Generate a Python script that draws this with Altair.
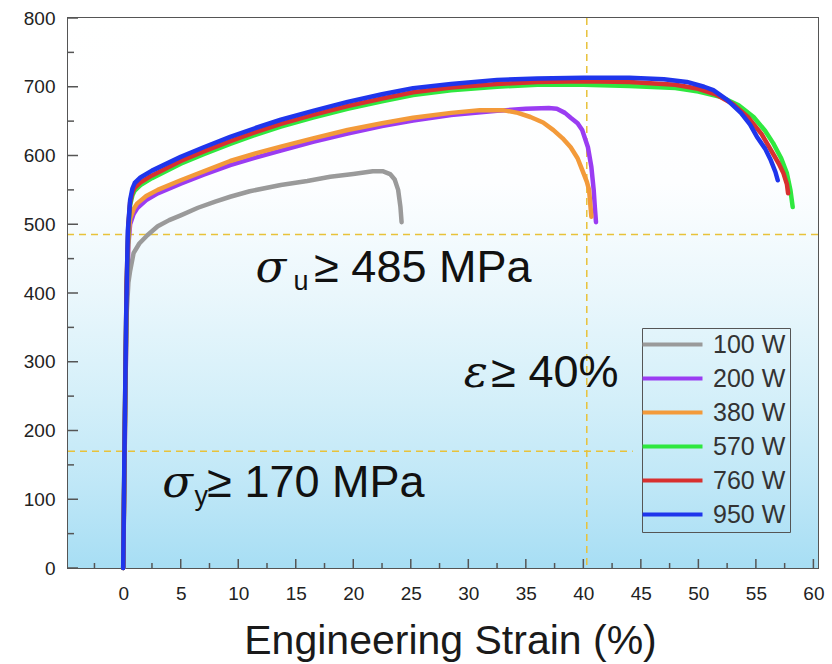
import altair as alt
import pandas as pd

# ---------------- data ----------------
POWER = ["100 W", "200 W", "380 W", "570 W", "760 W", "950 W"]
COLORS = ["#9a9a9a", "#9a3cf2", "#f39a3a", "#2fe83f", "#d8302f", "#1f35ec"]

S100_STRAIN = [0, 0.1, 0.2, 0.3, 0.45, 0.6, 0.9, 1.4, 2.1, 3.0, 4.0, 5.0, 6.5, 8.0, 9.3, 11.0, 13.7, 16.0, 18.0, 20.0,
               21.7, 22.6, 23.2, 23.6, 23.9, 24.1, 24.2]
S100_STRESS = [0, 130, 270, 370, 415, 432, 458, 472, 484, 497, 506, 513, 524, 533, 540, 548, 557, 563, 569, 573,
               577, 577, 573, 565, 550, 525, 503]

S200_STRAIN = [0, 0.15, 0.3, 0.45, 0.6, 0.9, 1.2, 2.0, 3.0, 5.0, 7.0, 9.3, 11.5, 13.7, 16.5, 19.5, 22.5, 25.2, 28.5, 32.5,
               35.0, 37.0, 37.7, 38.4, 38.9, 39.5, 39.9, 40.4, 40.7, 40.9, 41.0, 41.1]
S200_STRESS = [0, 200, 390, 470, 500, 515, 523, 535, 545, 559, 572, 586, 597, 607, 620, 632, 643, 651, 659, 665,
               668, 669, 668, 662, 655, 647, 637, 612, 583, 550, 525, 503]

S380_STRAIN = [0, 0.15, 0.3, 0.45, 0.6, 0.9, 1.2, 2.0, 3.0, 5.0, 7.0, 9.3, 11.5, 13.7, 16.5, 19.5, 22.5, 25.2, 28.5, 31.0,
               33.0, 34.3, 35.4, 36.5, 37.4, 38.2, 38.9, 39.5, 39.9, 40.3, 40.5, 40.6, 40.7]
S380_STRESS = [0, 210, 400, 480, 508, 522, 530, 541, 550, 564, 577, 592, 603, 613, 625, 637, 647, 655, 662, 666,
               666, 662, 656, 648, 637, 625, 612, 596, 579, 562, 550, 530, 511]

S570_STRAIN = [0, 0.15, 0.3, 0.45, 0.6, 0.8, 1.0, 1.5, 2.5, 5.0, 7.0, 9.3, 11.5, 13.7, 16.5, 19.5, 22.5, 25.2, 28.5, 32.5,
               36.0, 40.0, 44.0, 48.0, 50.0, 52.0, 53.5, 54.8, 55.8, 56.5, 57.2, 57.7, 58.0, 58.2]
S570_STRESS = [0, 220, 410, 495, 528, 542, 549, 557, 567, 588, 602, 617, 630, 642, 655, 668, 679, 688, 695, 700,
               703, 703, 701, 698, 693, 685, 673, 656, 636, 618, 596, 574, 550, 525]

S760_STRAIN = [0, 0.15, 0.3, 0.45, 0.6, 0.8, 1.0, 1.5, 2.5, 5.0, 7.0, 9.3, 11.5, 13.7, 16.5, 19.5, 22.5, 25.2, 28.5, 32.5,
               36.0, 40.0, 44.0, 48.0, 50.0, 51.5, 53.0, 54.3, 55.5, 56.3, 57.0, 57.4, 57.7, 57.8]
S760_STRESS = [0, 225, 420, 500, 532, 546, 553, 561, 571, 592, 606, 621, 634, 646, 659, 672, 683, 692, 699, 704,
               707, 708, 707, 703, 697, 689, 675, 656, 631, 608, 588, 574, 558, 545]

S950_STRAIN = [0, 0.1, 0.25, 0.4, 0.6, 0.8, 1.0, 1.5, 2.5, 5.0, 7.0, 9.3, 11.5, 13.7, 16.5, 19.5, 22.5, 25.2, 28.5, 32.5,
               36.0, 40.0, 44.0, 47.0, 49.0, 50.5, 51.3, 52.5, 53.7, 54.5, 55.1, 55.8, 56.3, 56.7, 56.9]
S950_STRESS = [0, 160, 360, 490, 535, 552, 560, 568, 578, 598, 612, 627, 640, 652, 665, 678, 689, 698, 704, 710,
               712, 713, 713, 711, 707, 700, 695, 681, 662, 645, 627, 610, 593, 576, 564]

SERIES_STRAIN = [S100_STRAIN, S200_STRAIN, S380_STRAIN, S570_STRAIN, S760_STRAIN, S950_STRAIN]
SERIES_STRESS = [S100_STRESS, S200_STRESS, S380_STRESS, S570_STRESS, S760_STRESS, S950_STRESS]

X_DOMAIN = [-4.8, 60.4]
Y_DOMAIN = [0, 800]
X_LABELS = [0, 5, 10, 15, 20, 25, 30, 35, 40, 45, 50, 55, 60]
Y_LABELS = [0, 100, 200, 300, 400, 500, 600, 700, 800]
X_MINOR = [-2.5, 2.5, 7.5, 12.5, 17.5, 22.5, 27.5, 32.5, 37.5, 42.5, 47.5, 52.5, 57.5]
Y_MINOR = [50, 150, 250, 350, 450, 550, 650, 750]

# reference (criteria) lines
H_FULL = [485]
H_PART = [170]
H_PART_END = [44.3]
V_LINE = [40.3]

# annotations
GREEK = ["σ", "σ", "ε"]
GREEK_X = [11.5, 3.4, 29.6]
GREEK_Y = [416, 103, 263]
SUB = ["u", "y"]
SUB_X = [14.8, 6.2]
SUB_Y = [404, 91]
REST = ["≥ 485 MPa", "≥ 170 MPa", "≥ 40%"]
REST_X = [16.6, 7.3, 32.0]
REST_Y = [416, 103, 263]

# ---------------- tables ----------------
rows = []
for name, xs, ys in zip(POWER, SERIES_STRAIN, SERIES_STRESS):
    for i, (a, b) in enumerate(zip(xs, ys)):
        rows.append({"power": name, "strain": a, "stress": b, "i": i})
curves = pd.DataFrame(rows)

W, H = 750, 550
FONT = "Liberation Sans"
DASH_COLOR = "#e8c23a"

xscale = alt.Scale(domain=X_DOMAIN, nice=False, zero=False)
yscale = alt.Scale(domain=Y_DOMAIN, nice=False, zero=False)

X_AXIS = alt.Axis(
    values=X_LABELS, title="Engineering Strain (%)", titleFont=FONT, titleFontSize=41,
    titleFontWeight="normal", titleColor="#1a1a1a", titleY=85, titleX=382, titleBaseline="alphabetic",
    labelFont=FONT, labelFontSize=19, labelColor="#222222", labelPadding=16, labelFlush=False,
    ticks=False, domain=False, grid=False)
Y_AXIS = alt.Axis(
    values=Y_LABELS, title="", labelFont=FONT, labelFontSize=19, labelColor="#222222",
    labelPadding=13, labelFlush=False, ticks=False, domain=False, grid=False)


def X(field):
    return alt.X(field, scale=xscale, axis=X_AXIS, title="Engineering Strain (%)")


def Y(field):
    return alt.Y(field, scale=yscale, axis=Y_AXIS, title="")


bg_df = pd.DataFrame({"x": [X_DOMAIN[0]], "x2": [X_DOMAIN[1]], "y": [Y_DOMAIN[0]], "y2": [Y_DOMAIN[1]]})
gradient = alt.LinearGradient(
    gradient="linear",
    stops=[
        alt.GradientStop(offset=0, color="#ffffff"),
        alt.GradientStop(offset=0.3, color="#fdfeff"),
        alt.GradientStop(offset=0.5, color="#eaf7fc"),
        alt.GradientStop(offset=0.7, color="#d3eff9"),
        alt.GradientStop(offset=0.85, color="#bfe7f7"),
        alt.GradientStop(offset=1, color="#a7def4"),
    ],
    x1=0, x2=0, y1=0, y2=1,
)

background = alt.Chart(bg_df).mark_rect(color=gradient).encode(
    x=X("x:Q"), x2="x2:Q", y=Y("y:Q"), y2="y2:Q")

DASH = dict(color=DASH_COLOR, strokeDash=[7, 5], strokeWidth=1.5)
h_full = alt.Chart(pd.DataFrame({"v": H_FULL})).mark_rule(**DASH).encode(y=Y("v:Q"))
h_part = alt.Chart(pd.DataFrame({"v": H_PART, "x0": [X_DOMAIN[0]], "x1": H_PART_END})).mark_rule(**DASH).encode(
    y=Y("v:Q"), x=X("x0:Q"), x2="x1:Q")
v_line = alt.Chart(pd.DataFrame({"v": V_LINE})).mark_rule(**DASH).encode(x=X("v:Q"))

TICK_COLOR = "#555555"
x_major = alt.Chart(pd.DataFrame({"v": X_LABELS})).mark_rule(color=TICK_COLOR, strokeWidth=1.5).encode(
    x=X("v:Q"), y=alt.value(H), y2=alt.value(H - 9))
x_minor = alt.Chart(pd.DataFrame({"v": X_MINOR})).mark_rule(color=TICK_COLOR, strokeWidth=1.5).encode(
    x=X("v:Q"), y=alt.value(H), y2=alt.value(H - 5))
y_major = alt.Chart(pd.DataFrame({"v": Y_LABELS})).mark_rule(color=TICK_COLOR, strokeWidth=1.5).encode(
    y=Y("v:Q"), x=alt.value(0), x2=alt.value(10))
y_minor = alt.Chart(pd.DataFrame({"v": Y_MINOR})).mark_rule(color=TICK_COLOR, strokeWidth=1.5).encode(
    y=Y("v:Q"), x=alt.value(0), x2=alt.value(6))

lines = alt.Chart(curves).mark_line(strokeWidth=4.5, strokeJoin="round", strokeCap="round").encode(
    x=X("strain:Q"),
    y=Y("stress:Q"),
    color=alt.Color("power:N", title=None, scale=alt.Scale(domain=POWER, range=COLORS),
                    legend=alt.Legend(orient="none", legendX=574, legendY=310,
                                      symbolType="M-3,0H3", symbolSize=400, symbolStrokeWidth=4,
                                      symbolOffset=14, labelOffset=28,
                                      labelFont=FONT, labelFontSize=25, labelColor="#333333",
                                      strokeColor="#555555", padding=4, rowPadding=8, labelLimit=300)),
    order=alt.Order("i:Q"),
)

greek = alt.Chart(pd.DataFrame({"t": GREEK, "x": GREEK_X, "y": GREEK_Y})).mark_text(
    font="DejaVu Serif", fontStyle="italic", fontSize=45, align="left", baseline="alphabetic",
    color="#111111").encode(x=X("x:Q"), y=Y("y:Q"), text="t:N")

subs = alt.Chart(pd.DataFrame({"t": SUB, "x": SUB_X, "y": SUB_Y})).mark_text(
    font=FONT, fontSize=27, align="left", baseline="alphabetic", color="#111111").encode(
    x=X("x:Q"), y=Y("y:Q"), text="t:N")

rest = alt.Chart(pd.DataFrame({"t": REST, "x": REST_X, "y": REST_Y})).mark_text(
    font=FONT, fontSize=45, align="left", baseline="alphabetic", color="#111111").encode(
    x=X("x:Q"), y=Y("y:Q"), text="t:N")

chart = alt.layer(
    background, h_full, h_part, v_line, x_major, x_minor, y_major, y_minor, lines, greek, subs, rest
).properties(
    width=W, height=H,
    autosize=alt.AutoSizeParams(type="none"),
    padding={"left": 68, "top": 18, "right": 14, "bottom": 96},
    background="white",
).configure_view(stroke="#555555", strokeWidth=2)

chart.save("out.html", embed_options={"renderer": "svg", "actions": False})
